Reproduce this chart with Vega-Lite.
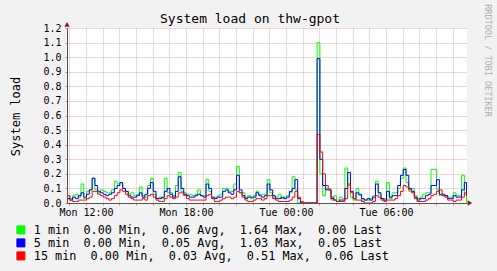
{
  "$schema": "https://vega.github.io/schema/vega-lite/v6.json",
  "autosize": {"type": "none"},
  "padding": {"left": 67, "top": 28, "right": 30, "bottom": 68},
  "width": 400,
  "height": 175,
  "background": "#f2f2f2",
  "title": {"text": "System load on thw-gpot", "font": "DejaVu Sans Mono", "fontSize": 13, "fontWeight": "normal", "color": "#000000", "anchor": "middle", "frame": "group", "dx": -17, "dy": 25, "offset": 3},
  "config": {
    "view": {"fill": "white", "stroke": null},
    "axisX": {"labelOverlap": false, "labelFont": "DejaVu Sans Mono", "labelFontSize": 10, "labelColor": "#000000", "labelPadding": 2,
      "domainColor": "#555555", "tickSize": 2, "tickColor": "#e08080", "gridColor": "#d9b3b3", "gridDash": [1, 1]}
  },
  "data": {"values": [
    {"m":652,"g":0.05,"b":0.03,"r":0.05},{"m":662,"g":0.03,"b":0.02,"r":0.02},{"m":672,"g":0.05,"b":0.04,"r":0.01},{"m":682,"g":0.06,"b":0.03,"r":0.01},{"m":692,"g":0.04,"b":0.05,"r":0.02},
    {"m":702,"g":0.13,"b":0.07,"r":0.02},{"m":712,"g":0.03,"b":0.04,"r":0.02},{"m":722,"g":0.08,"b":0.06,"r":0.03},{"m":732,"g":0.09,"b":0.09,"r":0.04},{"m":742,"g":0.17,"b":0.17,"r":0.08},
    {"m":752,"g":0.09,"b":0.12,"r":0.08},{"m":762,"g":0.07,"b":0.08,"r":0.06},{"m":772,"g":0.09,"b":0.07,"r":0.05},{"m":782,"g":0.08,"b":0.06,"r":0.04},{"m":792,"g":0.07,"b":0.05,"r":0.03},
    {"m":802,"g":0.07,"b":0.06,"r":0.02},{"m":812,"g":0.09,"b":0.07,"r":0.03},{"m":822,"g":0.15,"b":0.10,"r":0.05},{"m":832,"g":0.13,"b":0.12,"r":0.07},{"m":842,"g":0.14,"b":0.14,"r":0.09},
    {"m":852,"g":0.10,"b":0.10,"r":0.08},{"m":862,"g":0.08,"b":0.08,"r":0.06},{"m":872,"g":0.06,"b":0.05,"r":0.04},{"m":882,"g":0.07,"b":0.04,"r":0.03},{"m":892,"g":0.05,"b":0.04,"r":0.02},
    {"m":902,"g":0.06,"b":0.05,"r":0.02},{"m":912,"g":0.11,"b":0.07,"r":0.02},{"m":922,"g":0.05,"b":0.04,"r":0.03},{"m":932,"g":0.04,"b":0.06,"r":0.02},{"m":942,"g":0.12,"b":0.10,"r":0.05},
    {"m":952,"g":0.17,"b":0.14,"r":0.06},{"m":962,"g":0.06,"b":0.08,"r":0.04},{"m":972,"g":0.03,"b":0.03,"r":0.02},{"m":982,"g":0.04,"b":0.03,"r":0.01},{"m":992,"g":0.03,"b":0.04,"r":0.01},
    {"m":1002,"g":0.17,"b":0.08,"r":0.03},{"m":1012,"g":0.07,"b":0.10,"r":0.05},{"m":1022,"g":0.07,"b":0.06,"r":0.04},{"m":1032,"g":0.05,"b":0.04,"r":0.03},{"m":1042,"g":0.12,"b":0.08,"r":0.04},
    {"m":1052,"g":0.21,"b":0.18,"r":0.07},{"m":1062,"g":0.08,"b":0.10,"r":0.07},{"m":1072,"g":0.07,"b":0.06,"r":0.05},{"m":1082,"g":0.06,"b":0.05,"r":0.03},{"m":1092,"g":0.06,"b":0.04,"r":0.02},
    {"m":1102,"g":0.05,"b":0.04,"r":0.02},{"m":1112,"g":0.06,"b":0.05,"r":0.02},{"m":1122,"g":0.09,"b":0.06,"r":0.02},{"m":1132,"g":0.05,"b":0.05,"r":0.02},{"m":1142,"g":0.05,"b":0.04,"r":0.02},
    {"m":1152,"g":0.16,"b":0.13,"r":0.05},{"m":1162,"g":0.08,"b":0.10,"r":0.06},{"m":1172,"g":0.03,"b":0.04,"r":0.03},{"m":1182,"g":0.04,"b":0.03,"r":0.01},{"m":1192,"g":0.05,"b":0.04,"r":0.01},
    {"m":1202,"g":0.06,"b":0.04,"r":0.02},{"m":1212,"g":0.10,"b":0.08,"r":0.03},{"m":1222,"g":0.10,"b":0.09,"r":0.04},{"m":1232,"g":0.08,"b":0.07,"r":0.04},{"m":1242,"g":0.08,"b":0.06,"r":0.03},
    {"m":1252,"g":0.13,"b":0.09,"r":0.04},{"m":1262,"g":0.25,"b":0.19,"r":0.08},{"m":1272,"g":0.07,"b":0.09,"r":0.07},{"m":1282,"g":0.07,"b":0.05,"r":0.04},{"m":1292,"g":0.04,"b":0.03,"r":0.02},
    {"m":1302,"g":0.05,"b":0.04,"r":0.01},{"m":1312,"g":0.03,"b":0.04,"r":0.01},{"m":1322,"g":0.05,"b":0.04,"r":0.02},{"m":1332,"g":0.08,"b":0.07,"r":0.03},{"m":1342,"g":0.06,"b":0.05,"r":0.03},
    {"m":1352,"g":0.06,"b":0.04,"r":0.02},{"m":1362,"g":0.06,"b":0.05,"r":0.03},{"m":1372,"g":0.16,"b":0.13,"r":0.05},{"m":1382,"g":0.07,"b":0.09,"r":0.05},{"m":1392,"g":0.04,"b":0.05,"r":0.03},
    {"m":1402,"g":0.04,"b":0.03,"r":0.02},{"m":1412,"g":0.06,"b":0.03,"r":0.01},{"m":1422,"g":0.03,"b":0.04,"r":0.01},{"m":1432,"g":0.04,"b":0.03,"r":0.01},{"m":1442,"g":0.05,"b":0.04,"r":0.01},
    {"m":1452,"g":0.07,"b":0.08,"r":0.02},{"m":1462,"g":0.18,"b":0.10,"r":0.04},{"m":1472,"g":0.09,"b":0.16,"r":0.08},{"m":1482,"g":0.0,"b":0.03,"r":0.04},{"m":1492,"g":0.0,"b":0.0,"r":0.01},
    {"m":1502,"g":0.0,"b":0.0,"r":0.0},{"m":1512,"g":0.0,"b":0.0,"r":0.0},{"m":1522,"g":0.0,"b":0.0,"r":0.0},{"m":1532,"g":0.0,"b":0.0,"r":0.0},{"m":1542,"g":0.0,"b":0.0,"r":0.0},
    {"m":1552,"g":1.10,"b":0.99,"r":0.47},{"m":1562,"g":0.20,"b":0.30,"r":0.35},{"m":1572,"g":0.05,"b":0.12,"r":0.20},{"m":1582,"g":0.10,"b":0.09,"r":0.12},{"m":1592,"g":0.10,"b":0.09,"r":0.09},
    {"m":1602,"g":0.02,"b":0.03,"r":0.04},{"m":1612,"g":0.05,"b":0.02,"r":0.02},{"m":1622,"g":0.01,"b":0.01,"r":0.01},{"m":1632,"g":0.04,"b":0.02,"r":0.01},{"m":1642,"g":0.03,"b":0.02,"r":0.01},
    {"m":1652,"g":0.24,"b":0.10,"r":0.03},{"m":1662,"g":0.12,"b":0.21,"r":0.13},{"m":1672,"g":0.04,"b":0.08,"r":0.07},{"m":1682,"g":0.02,"b":0.03,"r":0.03},{"m":1692,"g":0.10,"b":0.07,"r":0.02},
    {"m":1702,"g":0.05,"b":0.06,"r":0.02},{"m":1712,"g":0.02,"b":0.03,"r":0.01},{"m":1722,"g":0.02,"b":0.02,"r":0.0},{"m":1732,"g":0.02,"b":0.03,"r":0.0},{"m":1742,"g":0.03,"b":0.02,"r":0.0},
    {"m":1752,"g":0.05,"b":0.04,"r":0.01},{"m":1762,"g":0.15,"b":0.13,"r":0.05},{"m":1772,"g":0.06,"b":0.07,"r":0.04},{"m":1782,"g":0.03,"b":0.03,"r":0.02},{"m":1792,"g":0.03,"b":0.02,"r":0.01},
    {"m":1802,"g":0.14,"b":0.08,"r":0.02},{"m":1812,"g":0.03,"b":0.04,"r":0.02},{"m":1822,"g":0.07,"b":0.05,"r":0.02},{"m":1832,"g":0.07,"b":0.05,"r":0.03},{"m":1842,"g":0.10,"b":0.12,"r":0.05},
    {"m":1852,"g":0.17,"b":0.19,"r":0.08},{"m":1862,"g":0.24,"b":0.23,"r":0.12},{"m":1872,"g":0.14,"b":0.19,"r":0.11},{"m":1882,"g":0.08,"b":0.10,"r":0.09},{"m":1892,"g":0.10,"b":0.08,"r":0.07},
    {"m":1902,"g":0.05,"b":0.04,"r":0.03},{"m":1912,"g":0.03,"b":0.02,"r":0.01},{"m":1922,"g":0.04,"b":0.03,"r":0.01},{"m":1932,"g":0.06,"b":0.03,"r":0.01},{"m":1942,"g":0.07,"b":0.05,"r":0.02},
    {"m":1952,"g":0.07,"b":0.06,"r":0.03},{"m":1962,"g":0.23,"b":0.12,"r":0.05},{"m":1972,"g":0.23,"b":0.12,"r":0.06},{"m":1982,"g":0.09,"b":0.16,"r":0.08},{"m":1992,"g":0.05,"b":0.06,"r":0.09},
    {"m":2002,"g":0.05,"b":0.06,"r":0.05},{"m":2012,"g":0.05,"b":0.05,"r":0.04},{"m":2022,"g":0.04,"b":0.03,"r":0.02},{"m":2032,"g":0.04,"b":0.03,"r":0.02},{"m":2042,"g":0.07,"b":0.05,"r":0.01},
    {"m":2052,"g":0.05,"b":0.04,"r":0.02},{"m":2062,"g":0.05,"b":0.04,"r":0.02},{"m":2072,"g":0.19,"b":0.09,"r":0.04},{"m":2082,"g":0.06,"b":0.14,"r":0.07},{"m":2090,"g":0.0,"b":0.05,"r":0.06}
  ]},
  "resolve": {"axis": {"y": "independent"}},
  "layer": [
    {
      "transform": [{"fold": ["g", "b", "r"], "as": ["s", "v"]}],
      "mark": {"type": "line", "interpolate": "step-after", "strokeWidth": 1, "clip": true},
      "encoding": {
        "x": {"field": "m", "type": "quantitative",
          "scale": {"domain": [651.6, 2091.6], "nice": false, "zero": false},
          "axis": {"title": null, "values": [660,720,780,840,900,960,1020,1080,1140,1200,1260,1320,1380,1440,1500,1560,1620,1680,1740,1800,1860,1920,1980,2040],
            "labelExpr": "datum.value == 720 ? 'Mon 12:00' : datum.value == 1080 ? 'Mon 18:00' : datum.value == 1440 ? 'Tue 00:00' : datum.value == 1800 ? 'Tue 06:00' : ''"}},
        "y": {"field": "v", "type": "quantitative",
          "scale": {"domain": [0, 1.2], "nice": false},
          "axis": {"title": "System load", "values": [0,0.1,0.2,0.3,0.4,0.5,0.6,0.7,0.8,0.9,1.0,1.1,1.2], "format": ".1f",
            "labelFont": "DejaVu Sans Mono", "labelFontSize": 10, "labelColor": "#000000", "labelPadding": 4,
            "domainColor": "#555555", "tickSize": 2, "tickColor": "#e08080",
            "gridColor": "#e6a8a8", "gridDash": [1, 1],
            "titleFont": "DejaVu Sans Mono", "titleFontSize": 12, "titleFontWeight": "normal", "titleColor": "#000000",
            "titleX": -52, "titleY": 88, "titleAngle": -90, "titleAlign": "center", "titleBaseline": "middle"}},
        "color": {"field": "s", "type": "nominal",
          "scale": {"domain": ["g", "b", "r"], "range": ["#00ff00", "#0000ff", "#ff0000"]},
          "legend": {"title": null, "orient": "none", "legendX": -52, "legendY": 196, "direction": "vertical",
            "symbolType": "square", "symbolSize": 64, "symbolStrokeWidth": 1, "symbolStrokeColor": "#000000",
            "labelFont": "DejaVu Sans Mono", "labelFontSize": 11.8, "labelColor": "#000000", "labelLimit": 600, "labelOffset": 7,
            "rowPadding": -1, "padding": 0,
            "labelExpr": "datum.value == 'g' ? '\u00a01\u00a0min\u00a0\u00a00.00\u00a0Min,\u00a0\u00a00.06\u00a0Avg,\u00a0\u00a01.64\u00a0Max,\u00a0\u00a00.00\u00a0Last' : datum.value == 'b' ? '\u00a05\u00a0min\u00a0\u00a00.00\u00a0Min,\u00a0\u00a00.05\u00a0Avg,\u00a0\u00a01.03\u00a0Max,\u00a0\u00a00.05\u00a0Last' : '15\u00a0min\u00a0\u00a00.00\u00a0Min,\u00a0\u00a00.03\u00a0Avg,\u00a0\u00a00.51\u00a0Max,\u00a0\u00a00.06\u00a0Last'",
            "encode": {"symbols": {"update": {"fill": {"scale": "color", "field": "value"}, "stroke": {"value": "#000000"}, "strokeWidth": {"value": 1}, "opacity": {"value": 1}}}}}}
      }
    },
    {
      "data": {"values": [{}]},
      "mark": {"type": "point", "shape": "triangle-up", "filled": true, "size": 28, "color": "#8b1c1c", "opacity": 1},
      "encoding": {
        "x": {"datum": 651.6, "type": "quantitative",
          "axis": {"title": null, "values": [660,720,780,840,900,960,1020,1080,1140,1200,1260,1320,1380,1440,1500,1560,1620,1680,1740,1800,1860,1920,1980,2040],
            "labelExpr": "datum.value == 720 ? 'Mon 12:00' : datum.value == 1080 ? 'Mon 18:00' : datum.value == 1440 ? 'Tue 00:00' : datum.value == 1800 ? 'Tue 06:00' : ''"}},
        "y": {"datum": 1.225, "type": "quantitative", "axis": null}
      }
    },
    {
      "data": {"values": [{}]},
      "mark": {"type": "point", "shape": "triangle-right", "filled": true, "size": 28, "color": "#8b1c1c", "opacity": 1},
      "encoding": {
        "x": {"datum": 2102, "type": "quantitative",
          "axis": {"title": null, "values": [660,720,780,840,900,960,1020,1080,1140,1200,1260,1320,1380,1440,1500,1560,1620,1680,1740,1800,1860,1920,1980,2040],
            "labelExpr": "datum.value == 720 ? 'Mon 12:00' : datum.value == 1080 ? 'Mon 18:00' : datum.value == 1440 ? 'Tue 00:00' : datum.value == 1800 ? 'Tue 06:00' : ''"}},
        "y": {"datum": 0, "type": "quantitative",
          "axis": {"orient": "right", "title": "RRDTOOL / TOBI OETIKER", "labels": false, "ticks": false, "domain": false, "grid": false,
            "titleFont": "DejaVu Sans Mono", "titleFontSize": 8.5, "titleFontWeight": "normal", "titleColor": "#b0b0b0",
            "titleAngle": 90, "titleX": 20, "titleY": 32, "titleAlign": "center", "titleBaseline": "middle"}}
      }
    }
  ]
}
